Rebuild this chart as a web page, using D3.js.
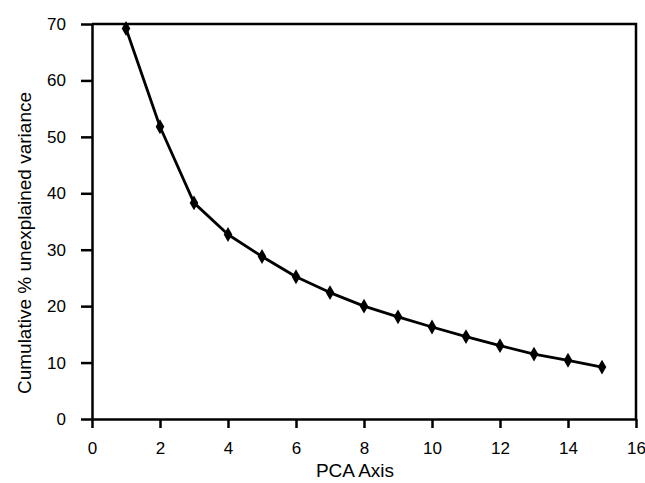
<!DOCTYPE html>
<html lang="en">
<head>
    <meta charset="UTF-8">
    <title>Cumulative % unexplained variance</title>
    <script src="https://d3js.org/d3.v7.min.js"></script>
    <style>
        body {
            margin: 0;
            background: #fff;
            font-family: "Liberation Sans", Arial, sans-serif;
        }

        .axis text {
            font-size: 17px;
            fill: #000;
        }

        .axis path,
        .axis line {
            stroke: #000;
            stroke-width: 2.5;
        }

        .label {
            font-size: 19px;
            text-anchor: middle;
        }
    </style>
</head>
<body>
    <div id="chart"></div>
    <script>
        // PCA axis number and cumulative % of variance still unexplained
        const axes = [1, 2, 3, 4, 5, 6, 7, 8, 9, 10, 11, 12, 13, 14, 15];
        const unexplained = [69.2, 51.8, 38.3, 32.7, 28.8, 25.2, 22.4, 20.0, 18.1, 16.3, 14.6, 13.0, 11.5, 10.4, 9.2];
        const xTicks = [0, 2, 4, 6, 8, 10, 12, 14, 16];
        const yTicks = [0, 10, 20, 30, 40, 50, 60, 70];

        const data = axes.map((a, i) => ({ x: a, y: unexplained[i] }));

        const margin = { top: 24, right: 9, bottom: 64, left: 92 };
        const width = 645 - margin.left - margin.right;
        const height = 483 - margin.top - margin.bottom;

        const svg = d3.select("#chart")
            .append("svg")
            .attr("width", 645)
            .attr("height", 483)
            .append("g")
            .attr("transform", `translate(${margin.left},${margin.top})`);

        const x = d3.scaleLinear().domain([0, 16]).range([0, width]);
        const y = d3.scaleLinear().domain([0, 70]).range([height, 0]);

        // frame: top and right edges
        svg.append("path")
            .attr("d", `M${x(0)},${y(70)}H${x(16)}V${y(0)}`)
            .attr("fill", "none")
            .attr("stroke", "#000")
            .attr("stroke-width", 2.5);

        svg.append("g")
            .attr("class", "axis")
            .attr("transform", `translate(0,${height})`)
            .call(d3.axisBottom(x).tickValues(xTicks).tickSize(9).tickSizeOuter(0).tickPadding(14));

        svg.append("g")
            .attr("class", "axis")
            .call(d3.axisLeft(y).tickValues(yTicks).tickSize(11).tickSizeOuter(0).tickPadding(15));

        svg.selectAll(".axis").attr("font-family", null).attr("font-size", null);

        const line = d3.line().x(d => x(d.x)).y(d => y(d.y));

        svg.append("path")
            .datum(data)
            .attr("fill", "none")
            .attr("stroke", "#000")
            .attr("stroke-width", 2.8)
            .attr("stroke-linejoin", "round")
            .attr("d", line);

        svg.selectAll("path.marker")
            .data(data)
            .enter().append("path")
            .attr("class", "marker")
            .attr("transform", d => `translate(${x(d.x)},${y(d.y)})`)
            .attr("d", d3.symbol(d3.symbolDiamond, 64))
            .attr("fill", "#000");

        svg.append("text")
            .attr("class", "label")
            .attr("x", width / 2 - 9)
            .attr("y", height + 58)
            .text("PCA Axis");

        svg.append("text")
            .attr("class", "label")
            .attr("transform", `translate(${-margin.left + 31},${243 - margin.top}) rotate(-90)`)
            .text("Cumulative % unexplained variance");
    </script>
</body>
</html>
